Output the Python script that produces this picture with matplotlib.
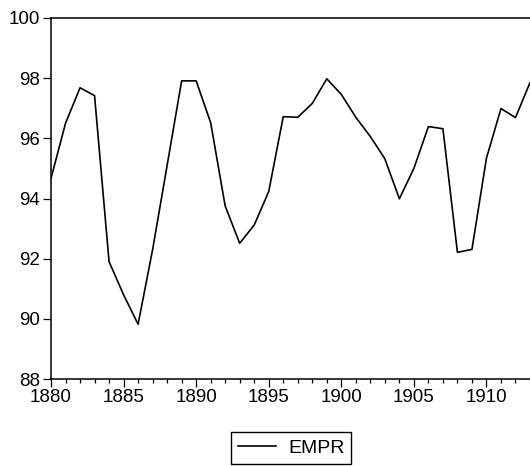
import numpy as np
import matplotlib.pyplot as plt

plt.rcParams['font.family'] = ['Liberation Sans', 'DejaVu Sans']

years = list(range(1880, 1914))
empr = [94.67, 96.50, 97.68, 97.42, 91.90, 90.80, 89.82, 92.30, 95.10, 97.91,
        97.91, 96.52, 93.75, 92.51, 93.12, 94.23, 96.72, 96.70, 97.16, 97.98,
        97.46, 96.70, 96.06, 95.32, 93.99, 95.00, 96.39, 96.32, 92.21, 92.31,
        95.34, 96.99, 96.69, 97.85]

fig = plt.figure(figsize=(5.30, 4.66), dpi=100)
ax = fig.add_axes([51 / 530, 87 / 466, 479 / 530, 361 / 466])

ax.plot(years, empr, color='black', linewidth=1.2, label='EMPR')

ax.set_xlim(1880, 1913)
ax.set_ylim(88, 100)
ax.set_xticks(range(1880, 1911, 5))
ax.set_xticks(range(1880, 1914), minor=True)
ax.set_yticks(range(88, 101, 2))

for s in ['left', 'bottom', 'top']:
    ax.spines[s].set_linewidth(1.1)
ax.spines['right'].set_visible(False)

ax.tick_params(axis='both', which='major', direction='out', length=5.5, width=0.9,
               labelsize=13.5, colors='black')
ax.tick_params(axis='x', which='minor', direction='out', length=3, width=0.9)
ax.tick_params(axis='y', which='minor', left=False)
ax.tick_params(axis='x', pad=2)
ax.tick_params(axis='y', pad=2.5)

fig.legend(loc='center', bbox_to_anchor=(291 / 530, 18 / 466), fontsize=14,
           frameon=True, fancybox=False, edgecolor='black', framealpha=1,
           handlelength=2.0, handletextpad=0.6, borderpad=0.35)

fig.savefig('out.png', dpi=100)
